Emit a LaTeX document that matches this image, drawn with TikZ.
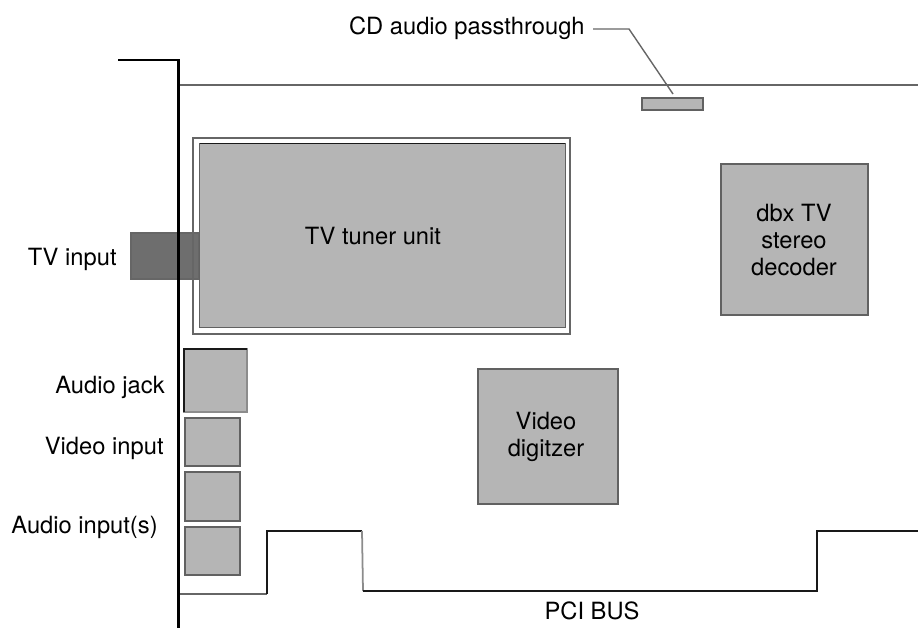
\documentclass[tikz,border=0pt]{standalone}
\usepackage{fontspec}
\setmainfont{TeX Gyre Heros}
\usepackage{tikz}
\usetikzlibrary{positioning}

\tikzset{
    chip/.style={draw=black!62, line width=0.85pt, fill=black!29, outer sep=0pt, inner sep=0pt, align=center},
    lbl/.style={font=\fontsize{13.5}{15.5}\selectfont, inner sep=0pt, align=center},
    edge line/.style={draw=black!60, line width=1pt},
    dark line/.style={draw=black!90, line width=0.9pt}
}

\begin{document}
\begin{tikzpicture}[x=0.02cm, y=-0.02cm]
    \useasboundingbox (0,0) rectangle (918,628);

    % Đầu vào TV
    \node[draw=black!60, fill=black!57, line width=0.6pt, minimum width=1.36cm, minimum height=0.92cm, outer sep=0pt, inner sep=0pt] (tvport) at (165,256) {};

    % Tấm chắn
    \draw[line width=1.4pt] (118,60) -- (179,60);
    \draw[line width=2.2pt] (178.5,59.5) -- (178.5,628);

    % Viền bo mạch
    \draw[edge line] (180,85) -- (918,85);
    \draw[edge line] (180,594) -- (267,594);
    \draw[dark line] (267,594) -- (267,531) -- (362,531);
    \draw[edge line, draw=black!45] (362,531) -- (363,591);
    \draw[dark line] (363,591) -- (817,591) -- (817,531) -- (918,531);

    % Khối TV tuner
    \node[draw=black!60, line width=0.8pt, minimum width=7.54cm, minimum height=3.92cm, outer sep=0pt] (tunerframe) at (381.5,236) {};
    \node[chip, minimum width=7.32cm, minimum height=3.68cm] (tuner) at (382.5,235.5) {};
    \draw[dark line] (tuner.north west) -- (tuner.north east);
    \node[lbl] (tunerlbl) at (373,236) {TV tuner unit};

    % Các khối còn lại
    \node[chip, minimum width=2.94cm, minimum height=3.02cm] (dbx) at (794.5,239.5) {};
    \node[lbl] (dbxlbl) at (794,240) {dbx TV\\stereo\\decoder};
    \node[chip, minimum width=2.8cm, minimum height=2.7cm] (digitizer) at (548,436.5) {};
    \node[lbl] (digitizerlbl) at (546,437) {Video\\digitzer};
    \node[chip, minimum width=1.22cm, minimum height=0.24cm] (cdbox) at (672.5,104) {};

    % Các cổng bên trái
    \node[chip, draw=black!45, minimum width=1.26cm, minimum height=1.26cm] (jack) at (215.5,380.5) {};
    \draw[dark line] (jack.south west) -- (jack.north west) -- (jack.north east);
    \node[chip, minimum width=1.1cm, minimum height=0.96cm] (videoport) at (212.5,442) {};
    \node[chip, minimum width=1.1cm, minimum height=0.98cm] (audioporta) at (212.5,496.5) {};
    \node[chip, minimum width=1.1cm, minimum height=0.96cm] (audioportb) at (212.5,551) {};

    % Nhãn
    \node[lbl, anchor=east] (tvlbl) at (117,259) {TV input};
    \node[lbl, anchor=east] (jacklbl) at (165,387) {Audio jack};
    \node[lbl, anchor=east] (videolbl) at (164,448) {Video input};
    \node[lbl, anchor=east] (audiolbl) at (158,527) {Audio input(s)};
    \node[lbl] (pcilbl) at (592,611) {PCI BUS};
    \node[lbl, anchor=east] (cdlbl) at (585,28) {CD audio passthrough};

    % Đường dẫn nhãn CD
    \coordinate (cdstart) at (593,29);
    \coordinate (cdbend) at (629,29);
    \coordinate (cdend) at (673,94);
    \draw[edge line, line width=0.8pt] (cdstart) -- (cdbend) -- (cdend);
\end{tikzpicture}
\end{document}
